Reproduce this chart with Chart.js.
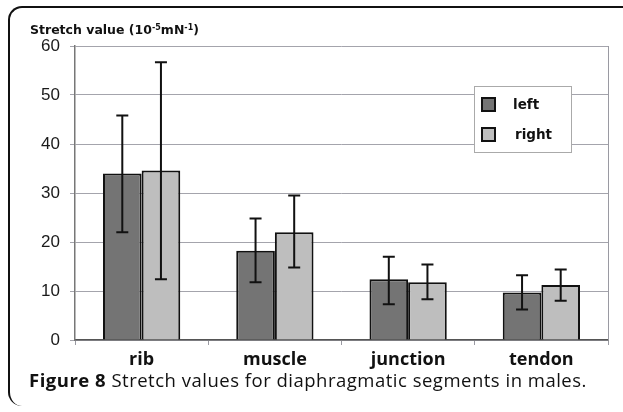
<!DOCTYPE html>
<html>
<head>
<meta charset="utf-8">
<script src="https://cdn.jsdelivr.net/npm/chart.js@4.4.0/dist/chart.umd.min.js"></script>
<style>
  html, body { margin: 0; padding: 0; background: #fff; }
  #wrap { position: relative; width: 623px; height: 412px; overflow: hidden; }
  #frame {
    position: absolute; left: 8px; top: 6px; width: 640px; height: 400px;
    border-left: 2px solid #111; border-top: 2px solid #111;
    border-radius: 14px 0 0 14px; box-sizing: border-box;
  }
  #chart { position: absolute; left: 0; top: 0; }
  #ytitle {
    position: absolute; left: 30px; top: 22px;
    font: bold 12.5px "DejaVu Sans", sans-serif; color: #111;
  }
  #ytitle sup { font-size: 8px; vertical-align: 4px; }
  #caption {
    position: absolute; left: 29px; top: 367px;
    font: 18.5px "Open Sans", sans-serif; letter-spacing: 0.5px;
    color: #111; white-space: nowrap;
  }
</style>
</head>
<body>
<div id="wrap">
  <div id="frame"></div>
  <canvas id="chart" width="623" height="412"></canvas>
  <div id="ytitle">Stretch value (10<sup>-5</sup>mN<sup>-1</sup>)</div>
  <div id="caption"><b>Figure 8</b> Stretch values for diaphragmatic segments in males.</div>
</div>
<script>
// valores
const categorias = ['rib', 'muscle', 'junction', 'tendon'];
const leftVals  = [34.0, 18.2, 12.4, 9.7];
const rightVals = [34.6, 22.0, 11.8, 11.2];
const leftLow   = [22.0, 11.8, 7.3, 6.2];
const leftHigh  = [45.8, 24.8, 17.0, 13.2];
const rightLow  = [12.4, 14.8, 8.3, 8.0];
const rightHigh = [56.7, 29.5, 15.4, 14.4];
const yTicks = [0, 10, 20, 30, 40, 50, 60];

const erros = [
    { low: leftLow, high: leftHigh },
    { low: rightLow, high: rightHigh }
];

// barras de erro
const errorBars = {
    id: 'errorBars',
    afterDatasetsDraw(chart) {
        const ctx = chart.ctx;
        const y = chart.scales.y;
        ctx.save();
        ctx.strokeStyle = '#111';
        ctx.lineWidth = 2;
        chart.data.datasets.forEach(function (ds, i) {
            const meta = chart.getDatasetMeta(i);
            meta.data.forEach(function (bar, j) {
                const yl = y.getPixelForValue(erros[i].low[j]);
                const yh = y.getPixelForValue(erros[i].high[j]);
                ctx.beginPath();
                ctx.moveTo(bar.x, yl); ctx.lineTo(bar.x, yh);
                ctx.moveTo(bar.x - 6, yl); ctx.lineTo(bar.x + 6, yl);
                ctx.moveTo(bar.x - 6, yh); ctx.lineTo(bar.x + 6, yh);
                ctx.stroke();
            });
        });
        ctx.restore();
    }
};

// borda direita + legenda dentro do grafico
const boxLegend = {
    id: 'boxLegend',
    beforeDatasetsDraw(chart) {
        const ctx = chart.ctx;
        const a = chart.chartArea;
        ctx.save();
        ctx.strokeStyle = '#9a9aa2';
        ctx.lineWidth = 1;
        ctx.beginPath();
        ctx.moveTo(a.right + 0.5, a.top); ctx.lineTo(a.right + 0.5, a.bottom);
        ctx.stroke();
        ctx.restore();
    },
    afterDraw(chart) {
        const ctx = chart.ctx;
        const bx = 474, by = 86, bw = 97, bh = 66;
        ctx.save();
        ctx.fillStyle = '#fff';
        ctx.fillRect(bx, by, bw, bh);
        ctx.strokeStyle = '#aaa';
        ctx.lineWidth = 1;
        ctx.strokeRect(bx + 0.5, by + 0.5, bw, bh);
        ctx.font = 'bold 13.5px "DejaVu Sans", sans-serif';
        ctx.textBaseline = 'middle';
        chart.data.datasets.forEach(function (ds, i) {
            const yy = by + 19 + i * 30;
            ctx.fillStyle = ds.backgroundColor;
            ctx.fillRect(bx + 8, yy - 7, 13, 13);
            ctx.strokeStyle = '#111';
            ctx.lineWidth = 2;
            ctx.strokeRect(bx + 8, yy - 7, 13, 13);
            ctx.fillStyle = '#111';
            ctx.fillText(ds.label, bx + 39 + (i === 1 ? 2 : 0), yy);
        });
        ctx.restore();
    }
};

const ctx = document.getElementById('chart').getContext('2d');
const myChart = new Chart(ctx, {
    type: 'bar',
    data: {
        labels: categorias,
        datasets: [
            {
                label: 'left',
                data: leftVals,
                backgroundColor: '#747474',
                borderColor: '#111',
                borderWidth: 2,
                categoryPercentage: 0.58,
                barPercentage: 1.0
            },
            {
                label: 'right',
                data: rightVals,
                backgroundColor: '#bebebe',
                borderColor: '#111',
                borderWidth: 2,
                categoryPercentage: 0.58,
                barPercentage: 1.0
            }
        ]
    },
    options: {
        responsive: false,
        animation: false,
        layout: { padding: { left: 0, top: 46, right: 15, bottom: 0 } },
        scales: {
            x: {
                grid: { drawOnChartArea: false, color: '#9a9aa2', tickLength: 5 },
                border: { color: '#555', width: 1.5 },
                ticks: {
                    color: '#111',
                    padding: 4,
                    font: { family: '"Open Sans"', size: 18, weight: 'bold' }
                },
                afterFit: function (s) { s.height = 72; }
            },
            y: {
                min: 0,
                max: 60,
                afterBuildTicks: function (s) { s.ticks = yTicks.map(v => ({ value: v })); },
                grid: { color: '#a4a4ac', tickLength: 5 },
                border: { color: '#777', width: 1.5 },
                ticks: {
                    color: '#1a1a1a',
                    padding: 10,
                    font: { family: '"Liberation Sans"', size: 17 }
                },
                afterFit: function (s) { s.width = 75; }
            }
        },
        plugins: {
            legend: { display: false },
            tooltip: { enabled: false }
        }
    },
    plugins: [errorBars, boxLegend]
});
</script>
</body>
</html>
